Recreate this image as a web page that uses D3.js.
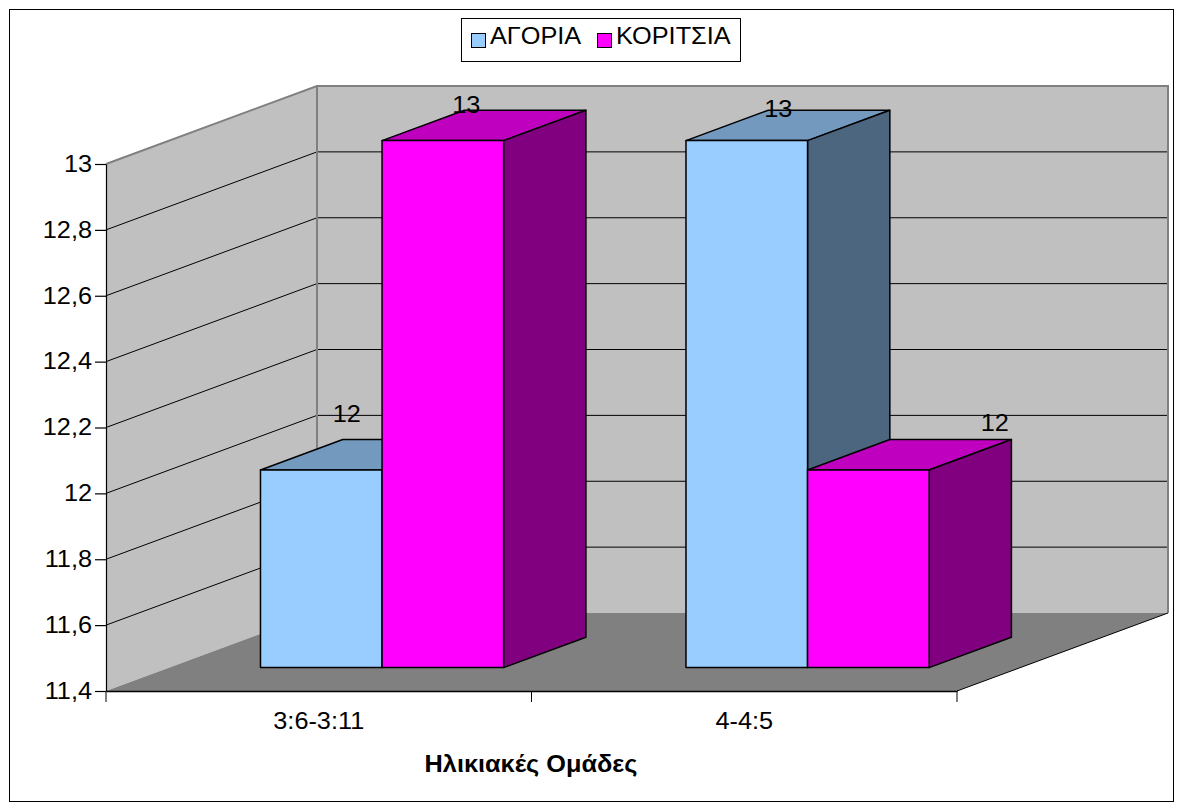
<!DOCTYPE html>
<html>
<head>
<meta charset="utf-8">
<script src="https://cdn.jsdelivr.net/npm/d3@7"></script>
<style>
  body { margin: 0; background: #fff; }
  text { font-family: "Liberation Sans", Arial, sans-serif; fill: #000; }
</style>
</head>
<body>
<svg id="chart"></svg>
<script>
// data
var categories = ["3:6-3:11", "4-4:5"];
var seriesNames = ["ΑΓΟΡΙΑ", "ΚΟΡΙΤΣΙΑ"];
var boys = [12, 13];
var girls = [13, 12];
var yTicks = [11.4, 11.6, 11.8, 12, 12.2, 12.4, 12.6, 12.8, 13];
var axisTitle = "Ηλικιακές Ομάδες";

var seriesValues = [boys, girls];
var faceColors = [
  { front: "#99CCFF", top: "#7399BF", side: "#4C6680" },
  { front: "#FF00FF", top: "#BF00BF", side: "#800080" }
];

var svgWidth = 1182, svgHeight = 811;
var plotL = 106, plotR = 957, plotT = 164, plotB = 691;
var DX = 211, DY = 78;          // depth offset of the back wall
var f0 = 0.3, f1 = 0.69;        // depth of bar front / back
var fontSize = 23;
var stretchX = 1.1;             // the original text is a bit wider than tall

// label nudges (px) relative to the back-left corner of each bar top
var labelNudge = [[[4, -18], [2, 3]], [[10, 7], [105, -9]]];

var svg = d3.select("#chart")
  .attr("width", svgWidth)
  .attr("height", svgHeight);

var fmt = d3.formatLocale({ decimal: ",", thousands: ".", grouping: [3], currency: ["", ""] }).format("~g");

var x = d3.scaleBand().domain(categories).range([plotL, plotR]);
var y = d3.scaleLinear().domain([yTicks[0], yTicks[yTicks.length - 1]]).range([plotB, plotT]);

var barW = x.bandwidth() / 3.5;
var xs = d3.scaleBand().domain(seriesNames).range([0, barW * 2]);
var groupOff = (x.bandwidth() - barW * 2) / 2;

function proj(px, py, f) { return [px + f * DX, py - f * DY]; }
function poly(pts) { return pts.map(function(p) { return p.join(","); }).join(" "); }
function addText(g, tx, ty, str) {
  return g.append("text")
    .attr("transform", "translate(" + tx + "," + ty + ") scale(" + stretchX + ",1)")
    .attr("font-size", fontSize + "px")
    .text(str);
}

// outer frame
svg.append("rect")
  .attr("x", 9.5).attr("y", 9.5)
  .attr("width", 1164).attr("height", 792)
  .attr("fill", "none").attr("stroke", "#000").attr("stroke-width", 1);

// walls and floor
var yB = y.range()[0], yT = y.range()[1];
svg.append("polygon")
  .attr("points", poly([[plotL, yT], [plotL, yB], proj(plotL, yB, 1), proj(plotL, yT, 1)]))
  .attr("fill", "#C0C0C0");
svg.append("polygon")
  .attr("points", poly([proj(plotL, yT, 1), proj(plotR, yT, 1), proj(plotR, yB, 1), proj(plotL, yB, 1)]))
  .attr("fill", "#C0C0C0");
svg.append("polygon")
  .attr("points", poly([[plotL, yB], [plotR, yB], proj(plotR, yB, 1), proj(plotL, yB, 1)]))
  .attr("fill", "#808080");

// gridlines
svg.selectAll(".grid")
  .data(yTicks.slice(1, -1))
  .enter()
  .append("polyline")
  .attr("points", function(d) {
    return poly([[plotL, y(d)], proj(plotL, y(d), 1), proj(plotR, y(d), 1)]);
  })
  .attr("fill", "none").attr("stroke", "#000").attr("stroke-width", 1);

// wall edges
svg.append("polyline")
  .attr("points", poly([[plotL, yT], proj(plotL, yT, 1), proj(plotR, yT, 1), proj(plotR, yB, 1)]))
  .attr("fill", "none").attr("stroke", "#808080").attr("stroke-width", 2);
svg.append("line")
  .attr("x1", proj(plotL, yT, 1)[0]).attr("y1", proj(plotL, yT, 1)[1])
  .attr("x2", proj(plotL, yB, 1)[0]).attr("y2", proj(plotL, yB, 1)[1])
  .attr("stroke", "#808080").attr("stroke-width", 2);
svg.append("line")
  .attr("x1", plotR).attr("y1", yB)
  .attr("x2", proj(plotR, yB, 1)[0]).attr("y2", proj(plotR, yB, 1)[1])
  .attr("stroke", "#000").attr("stroke-width", 1);

// bars
var bars = [];
categories.forEach(function(c, i) {
  seriesNames.forEach(function(s, j) {
    bars.push({ cat: c, ci: i, s: s, si: j, v: seriesValues[j][i] });
  });
});

var barG = svg.append("g");
bars.forEach(function(b) {
  var x0 = x(b.cat) + groupOff + xs(b.s), x1 = x0 + barW;
  var t = y(b.v), base = yB;
  var col = faceColors[b.si];
  barG.append("polygon")
    .attr("points", poly([proj(x0, t, f0), proj(x1, t, f0), proj(x1, t, f1), proj(x0, t, f1)]))
    .attr("fill", col.top).attr("stroke", "#000").attr("stroke-width", 1.5).attr("stroke-linejoin", "round");
  barG.append("polygon")
    .attr("points", poly([proj(x1, t, f0), proj(x1, base, f0), proj(x1, base, f1), proj(x1, t, f1)]))
    .attr("fill", col.side).attr("stroke", "#000").attr("stroke-width", 1.5).attr("stroke-linejoin", "round");
  barG.append("polygon")
    .attr("points", poly([proj(x0, t, f0), proj(x1, t, f0), proj(x1, base, f0), proj(x0, base, f0)]))
    .attr("fill", col.front).attr("stroke", "#000").attr("stroke-width", 1.5).attr("stroke-linejoin", "round");
});

// data labels
bars.forEach(function(b) {
  var x0 = x(b.cat) + groupOff + xs(b.s);
  var p = proj(x0, y(b.v), f1);
  var n = labelNudge[b.ci][b.si];
  addText(svg, p[0] + n[0], p[1] + n[1], b.v).attr("text-anchor", "middle");
});

// y axis
var yAxis = svg.append("g")
  .attr("transform", "translate(" + plotL + ",0)")
  .call(d3.axisLeft(y).tickValues(yTicks).tickFormat(fmt).tickSize(11).tickSizeOuter(0).tickPadding(3));
yAxis.selectAll("text")
  .attr("font-size", fontSize + "px").attr("font-family", null).attr("fill", "#000")
  .attr("x", -14 / stretchX)
  .attr("transform", "scale(" + stretchX + ",1)");
yAxis.selectAll("line, path").attr("stroke", "#000").attr("stroke-width", 1.2);

// x axis
var xAxis = svg.append("g")
  .attr("transform", "translate(0," + plotB + ")")
  .call(d3.axisBottom(x).tickSize(0).tickSizeOuter(0).tickPadding(22));
xAxis.selectAll("text")
  .attr("font-size", fontSize + "px").attr("font-family", null).attr("fill", "#000")
  .attr("transform", "scale(" + stretchX + ",1)");
xAxis.select("path").attr("stroke", "#000").attr("stroke-width", 1.5);
xAxis.selectAll(".bound")
  .data(categories.map(function(c) { return x(c); }).concat([plotR]))
  .enter()
  .append("line")
  .attr("x1", function(d) { return d; }).attr("x2", function(d) { return d; })
  .attr("y1", 0).attr("y2", 11)
  .attr("stroke", "#000").attr("stroke-width", 1);

// axis title
addText(svg, 531, 772, axisTitle)
  .attr("text-anchor", "middle")
  .attr("font-weight", "bold");

// legend
var legend = svg.append("g");
legend.append("rect")
  .attr("x", 461.5).attr("y", 18.5).attr("width", 279).attr("height", 43)
  .attr("fill", "#fff").attr("stroke", "#000").attr("stroke-width", 1);
var legendX = [471, 597];
seriesNames.forEach(function(s, j) {
  legend.append("rect")
    .attr("x", legendX[j] + 0.5).attr("y", 33.5).attr("width", 14).attr("height", 14)
    .attr("fill", faceColors[j].front).attr("stroke", "#000").attr("stroke-width", 1);
  addText(legend, legendX[j] + 19, 44, s);
});
</script>
</body>
</html>
